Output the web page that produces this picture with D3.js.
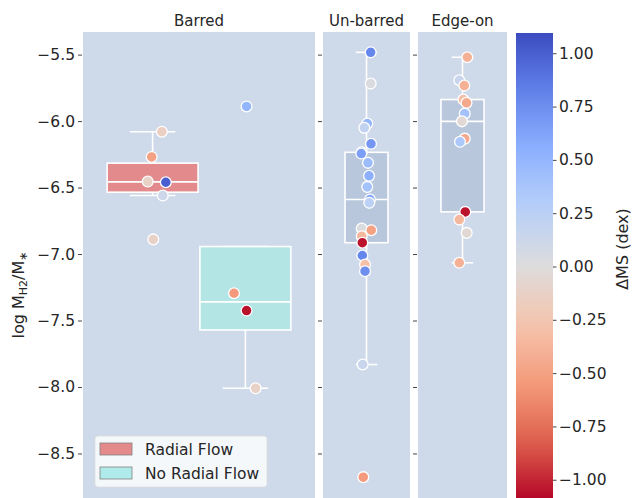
<!DOCTYPE html>
<html><head><meta charset="utf-8">
<script src="https://cdn.jsdelivr.net/npm/d3@7"></script>
<style>body{margin:0;background:#fff} svg{display:block;font-family:"DejaVu Sans",sans-serif}</style>
</head><body><svg id="c" width="637" height="498"></svg>
<script>
// ---------------- data ----------------
const panelNames = ["Barred", "Un-barred", "Edge-on"];
const legendLabels = ["Radial Flow", "No Radial Flow"];
const yTickValues = [-5.5, -6.0, -6.5, -7.0, -7.5, -8.0, -8.5];
const cbarTickValues = [1.0, 0.75, 0.5, 0.25, 0.0, -0.25, -0.5, -0.75, -1.0];

// Barred, radial flow
const barredRadialH2 = [-6.08, -6.27, -6.455, -6.46, -6.56, -6.89];
const barredRadialDMS = [-0.15, -0.5, -0.12, 1.0, 0.12, -0.12];
const barredRadialJitter = [0.04, -0.004, -0.021, 0.057, 0.044, 0.003];
// Barred, no radial flow
const barredNoRadialH2 = [-5.89, -7.295, -7.425, -8.01];
const barredNoRadialDMS = [0.5, -0.55, -1.05, -0.12];
const barredNoRadialJitter = [0.005, -0.049, 0.005, 0.044];
// Un-barred
const unbarredH2 = [-5.483, -5.718, -6.019, -6.051, -6.171, -6.235, -6.244, -6.314, -6.412, -6.495, -6.59,
                    -6.615, -6.808, -6.821, -6.866, -6.915, -7.011, -7.079, -7.129, -7.831, -8.678];
const unbarredDMS = [0.8, 0.02, 0.5, 0.2, 0.7, 0.45, 0.65, 0.45, 0.55, 0.4, 0.6,
                     0.25, 0.02, -0.5, -0.35, -1.05, 0.8, -0.3, 0.75, 0.15, -0.55];
const unbarredJitter = [0.048, 0.048, 0.009, -0.025, 0.052, -0.055, -0.06, 0.017, 0.029, 0.009, 0.04,
                        0.032, -0.055, 0.055, -0.055, -0.048, -0.048, -0.017, -0.017, -0.044, -0.037];
// Edge-on
const edgeonH2 = [-5.52, -5.693, -5.733, -5.838, -5.863, -5.944, -6.002, -6.132, -6.156, -6.683, -6.741, -6.841, -7.066];
const edgeonDMS = [-0.4, 0.15, -0.4, -0.3, -0.45, 0.4, -0.05, -0.45, 0.35, -1.05, -0.35, -0.05, -0.4];
const edgeonJitter = [0.054, -0.036, 0.02, 0.009, 0.045, 0.025, -0.006, 0.025, -0.028, 0.031, -0.036, 0.047, -0.036];

// coolwarm samples (matplotlib)
const coolwarmStops = ["#3b4cc0", "#6282ea", "#8db0fe", "#b8d0f9", "#dddcdc", "#f5c4ad", "#f49a7b", "#de604d", "#b40426"];
const dmsLimit = 1.095;

// ---------------- layout ----------------
const svg = d3.select("#c");
const font = "DejaVu Sans";
const panelX = [[83, 315], [323, 410], [418, 507]];
const plotTop = 32, plotBottom = 498;
const y = d3.scaleLinear().domain([-5.33, -8.835]).range([plotTop, plotBottom]);
const coolwarm = d3.piecewise(d3.interpolateRgb, coolwarmStops);
const cnorm = d3.scaleLinear().domain([-dmsLimit, dmsLimit]).range([0, 1]).clamp(true);
const colorOf = v => coolwarm(1 - cnorm(v)); // coolwarm_r

const xScales = panelX.map(r => d3.scaleLinear().domain([-0.5, 0.5]).range(r));

// panel backgrounds, titles, ticks
panelNames.forEach((name, i) => {
  const xs = xScales[i];
  svg.append("rect").attr("x", xs(-0.5)).attr("y", plotTop)
    .attr("width", xs(0.5) - xs(-0.5)).attr("height", plotBottom - plotTop)
    .attr("fill", "#ced9ea");
  svg.append("text").attr("x", xs(0)).attr("y", 26).attr("text-anchor", "middle")
    .attr("font-size", 15).attr("fill", "#262626").text(name);
  const ax = d3.axisLeft(y).tickValues(yTickValues).tickSize(4).tickFormat(i === 0 ? d3.format(".1f") : "");
  const g = svg.append("g").attr("transform", `translate(${xs(-0.5) - 1},0)`).call(ax);
  g.select(".domain").remove();
  g.selectAll(".tick line").attr("stroke", "#444");
  g.selectAll(".tick text").attr("font-size", 15.5).attr("font-family", font).attr("fill", "#262626").attr("x", -7);
});

// groups
const groups = [
  {panel: 0, offset: -0.2, width: 0.392, fill: "#e28a8c", h2: barredRadialH2, dms: barredRadialDMS, jit: barredRadialJitter},
  {panel: 0, offset: 0.2, width: 0.392, fill: "#b3e5e5", h2: barredNoRadialH2, dms: barredNoRadialDMS, jit: barredNoRadialJitter},
  {panel: 1, offset: 0, width: 0.494, fill: "#b8c7dc", h2: unbarredH2, dms: unbarredDMS, jit: unbarredJitter},
  {panel: 2, offset: 0, width: 0.484, fill: "#b8c7dc", h2: edgeonH2, dms: edgeonDMS, jit: edgeonJitter},
];

function boxStats(vals) {
  const s = vals.slice().sort(d3.ascending);
  const q1 = d3.quantileSorted(s, 0.25), med = d3.quantileSorted(s, 0.5), q3 = d3.quantileSorted(s, 0.75);
  const iqr = q3 - q1;
  let lo = d3.min(s.filter(v => v >= q1 - 1.5 * iqr));
  let hi = d3.max(s.filter(v => v <= q3 + 1.5 * iqr));
  if (lo > q1) lo = q1;
  if (hi < q3) hi = q3;
  return {q1, med, q3, lo, hi};
}

const boxLayer = svg.append("g");
const ptLayer = svg.append("g");
groups.forEach(gr => {
  const xs = xScales[gr.panel];
  const st = boxStats(gr.h2);
  const cx = xs(gr.offset);
  const x0 = xs(gr.offset - gr.width / 2), x1 = xs(gr.offset + gr.width / 2);
  const cw = (x1 - x0) / 4;
  const line = (xa, ya, xb, yb) => boxLayer.append("line").attr("x1", xa).attr("y1", ya).attr("x2", xb).attr("y2", yb)
      .attr("stroke", "#fff").attr("stroke-width", 1.6);
  line(cx, y(st.q3), cx, y(st.hi));
  line(cx, y(st.q1), cx, y(st.lo));
  line(cx - cw, y(st.hi), cx + cw, y(st.hi));
  line(cx - cw, y(st.lo), cx + cw, y(st.lo));
  boxLayer.append("rect").attr("x", x0).attr("y", y(st.q3)).attr("width", x1 - x0)
    .attr("height", y(st.q1) - y(st.q3)).attr("fill", gr.fill).attr("stroke", "#fff").attr("stroke-width", 1.6);
  line(x0, y(st.med), x1, y(st.med));

  ptLayer.selectAll(null).data(gr.h2.map((v, i) => ({v, c: gr.dms[i], j: gr.jit[i]})))
    .enter().append("circle")
    .attr("cx", d => xs(gr.offset + d.j)).attr("cy", d => y(d.v)).attr("r", 5.4)
    .attr("fill", d => colorOf(d.c)).attr("stroke", "#fff").attr("stroke-width", 1.3);
});

// y label
const yl = svg.append("text").attr("transform", "translate(24,295) rotate(-90)").attr("text-anchor", "middle")
  .attr("font-size", 16).attr("fill", "#262626");
yl.append("tspan").text("log M");
yl.append("tspan").attr("font-size", 11).attr("dy", 3).text("H2");
yl.append("tspan").attr("dy", -3).text("/M");
yl.append("tspan").attr("font-size", 11).attr("dy", 3).text("∗");

// legend
const lg = svg.append("g");
lg.append("rect").attr("x", 95).attr("y", 436).attr("width", 172).attr("height", 51).attr("rx", 3)
  .attr("fill", "#ffffff").attr("fill-opacity", 0.8).attr("stroke", "#dcdcdc").attr("stroke-width", 0.8);
[groups[0].fill, groups[1].fill].forEach((f, i) => {
  lg.append("rect").attr("x", 100).attr("y", 443 + i * 24).attr("width", 32).attr("height", 12)
    .attr("fill", i === 0 ? "#e48a8a" : "#b0ebeb").attr("stroke", "#7f7f7f").attr("stroke-width", 0.8);
  lg.append("text").attr("x", 145).attr("y", 454.5 + i * 24).attr("font-size", 15.5).attr("fill", "#262626")
    .text(legendLabels[i]);
});

// colorbar
const cb = d3.scaleLinear().domain([dmsLimit, -dmsLimit]).range([33, 500]);
const defs = svg.append("defs");
const grad = defs.append("linearGradient").attr("id", "cbg").attr("x1", 0).attr("y1", 0).attr("x2", 0).attr("y2", 1);
d3.range(0, 1.0001, 0.05).forEach(t => {
  grad.append("stop").attr("offset", t).attr("stop-color", coolwarm(t));
});
svg.append("rect").attr("x", 516).attr("y", cb.range()[0]).attr("width", 37)
  .attr("height", cb.range()[1] - cb.range()[0]).attr("fill", "url(#cbg)");
const cax = svg.append("g").attr("transform", "translate(553,0)")
  .call(d3.axisRight(cb).tickValues(cbarTickValues).tickSize(3.5).tickFormat(d3.format(".2f")));
cax.select(".domain").remove();
cax.selectAll(".tick line").attr("stroke", "#444");
cax.selectAll(".tick text").attr("font-size", 15.5).attr("font-family", font).attr("fill", "#262626").attr("x", 6);
svg.append("text").attr("transform", "translate(628,249) rotate(-90)").attr("text-anchor", "middle")
  .attr("font-size", 16).attr("fill", "#262626").text("ΔMS (dex)");
</script></body></html>
